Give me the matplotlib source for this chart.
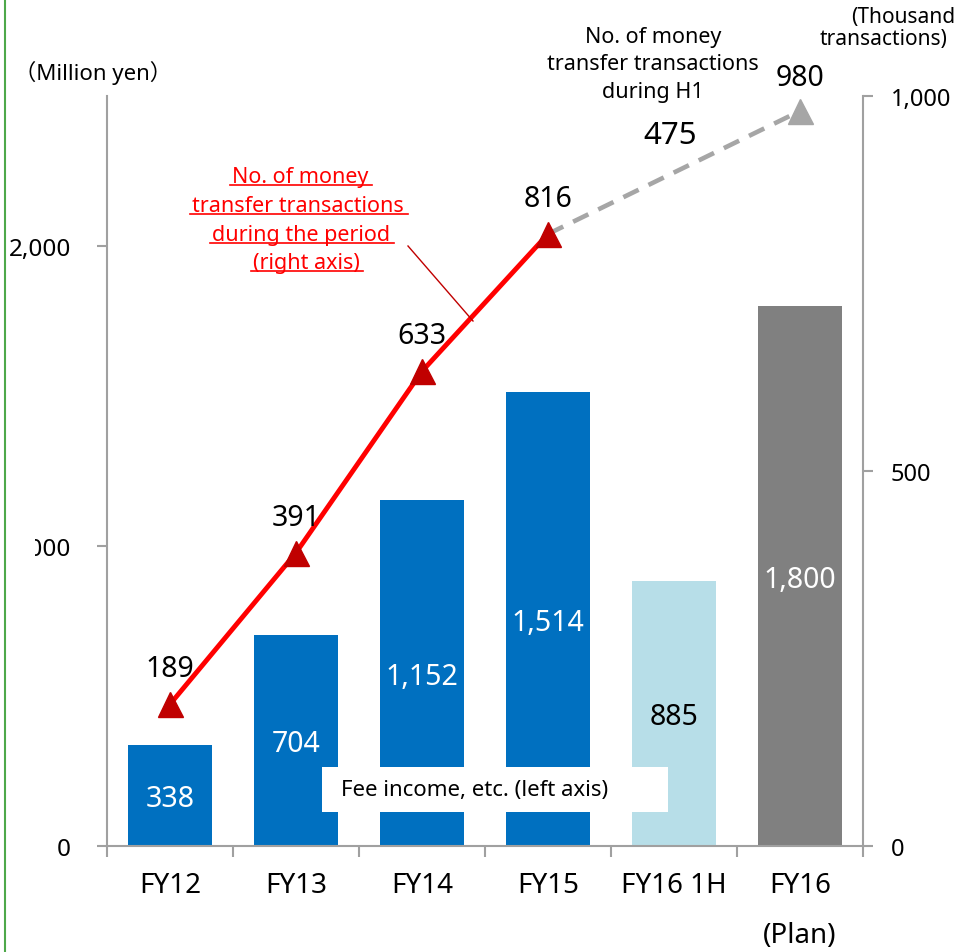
import matplotlib.pyplot as plt
from matplotlib.lines import Line2D
from matplotlib.patches import Rectangle

plt.rcParams['font.family'] = ['Noto Sans', 'Noto Sans CJK JP', 'DejaVu Sans']

# data
categories = ['FY12', 'FY13', 'FY14', 'FY15', 'FY16 1H', 'FY16\n(Plan)']
fee_income = [338, 704, 1152, 1514, 885, 1800]          # million yen, left axis
bar_colors = ['#0070C0', '#0070C0', '#0070C0', '#0070C0', '#B7DEE8', '#808080']
label_colors = ['white', 'white', 'white', 'white', 'black', 'white']

transactions = [189, 391, 633, 816]      # FY12-FY15, thousand, right axis
plan_transactions = [816, 980]           # FY15 -> FY16 plan
h1_transactions = 475

W, H = 961, 953
fig = plt.figure(figsize=(W / 100, H / 100), dpi=100)


def fx(x):
    return x / W


def fy(y):
    return 1 - y / H


axis_grey = '#A0A0A0'

ax = fig.add_axes([fx(107), fy(847), (863 - 107) / W, (847 - 97) / H])
xs = list(range(len(categories)))
bars = ax.bar(xs, fee_income, width=0.67, color=bar_colors, zorder=2)
blabels = ax.bar_label(bars, labels=[f'{v:,}' for v in fee_income],
                       label_type='center', fontsize=20.5)
for t, c in zip(blabels, label_colors):
    t.set_color(c)
    t.set_va('center_baseline')

ax.set_xlim(-0.5, 5.5)
ax.set_ylim(0, 2500)
ax.set_yticks([0, 1000, 2000])
ax.set_yticklabels(['0', '1,000', '2,000'])
ax.set_xticks(xs)
ax.set_xticklabels(categories)
ax.get_xticklabels()[-1].set_linespacing(2.05)
ax.set_xticks([i - 0.5 for i in range(len(categories) + 1)], minor=True)
ax.tick_params(axis='x', which='major', length=0, pad=18, labelsize=20)
ax.tick_params(axis='x', which='minor', length=8, width=1.5, color=axis_grey)
ax.tick_params(axis='y', length=7, width=1.5, color=axis_grey, pad=19, labelsize=17.5)
for s in ['top', 'right']:
    ax.spines[s].set_visible(False)
for s in ['left', 'bottom']:
    ax.spines[s].set_color(axis_grey)
    ax.spines[s].set_linewidth(1.5)

ax2 = ax.twinx()
ax2.set_ylim(0, 1000)
ax2.set_yticks([0, 500, 1000])
ax2.set_yticklabels(['0', '500', '1,000'])
ax2.tick_params(axis='y', length=7, width=1.5, color=axis_grey, pad=13, labelsize=17)
for s in ['top', 'left', 'bottom']:
    ax2.spines[s].set_visible(False)
ax2.spines['right'].set_color(axis_grey)
ax2.spines['right'].set_linewidth(1.5)

ax2.plot([3, 5], plan_transactions, color='#A6A6A6', lw=3.3, ls=(0, (3.7, 2.4)),
         marker='^', ms=18, markevery=[1], mfc='#A6A6A6', mec='#A6A6A6', zorder=2)
ax2.plot(range(len(transactions)), transactions, color='#FF0000', lw=3.5,
         marker='^', ms=18, mfc='#C00000', mec='#C00000', zorder=3)

for i, v in enumerate(transactions):
    ax2.annotate(f'{v}', (i, v), xytext=(0, 28), textcoords='offset points',
                 ha='center', va='center_baseline', fontsize=20.5)
ax2.annotate(f'{plan_transactions[1]}', (5, plan_transactions[1]), xytext=(0, 27),
             textcoords='offset points', ha='center', va='center_baseline', fontsize=20.5)

# text labels
fig.text(fx(670), fy(133), f'{h1_transactions}', ha='center', va='center_baseline', fontsize=22.5)
for line, yy in zip(['No. of money', 'transfer transactions', 'during H1'], [37, 65, 93]):
    fig.text(fx(653), fy(yy), line, ha='center', va='center', fontsize=15.5)
fig.text(fx(955), fy(17), '(Thousand', ha='right', va='center', fontsize=15)
fig.text(fx(948), fy(40), 'transactions)', ha='right', va='center', fontsize=15)
fig.text(fx(93), fy(73), '（Million yen）', ha='center', va='center', fontsize=16)

# red callout with underlines
red_lines = ['No. of money', 'transfer transactions', 'during the period', '(right axis)']
red_x = [300, 298, 301, 306]
red_base = [183, 212, 241, 269]
red_texts = [fig.text(fx(x0), fy(b), s, ha='center', va='baseline', fontsize=15.5, color='#FF0000')
             for s, x0, b in zip(red_lines, red_x, red_base)]
renderer = fig.canvas.get_renderer()
for t, b in zip(red_texts, red_base):
    bb = t.get_window_extent(renderer)
    fig.add_artist(Line2D([fx(bb.x0 - 2), fx(bb.x1 + 4)], [fy(b + 3), fy(b + 3)],
                          color='#FF0000', lw=1.2))
fig.add_artist(Line2D([fx(408), fx(473)], [fy(247), fy(322)], color='#C00000', lw=1.0))

# legend-like box for bars
fig.add_artist(Rectangle((fx(322), fy(813)), (668 - 322) / W, (813 - 768) / H,
                         facecolor='white', edgecolor='none'))
fig.text(fx(341), fy(791), 'Fee income, etc. (left axis)', ha='left', va='center', fontsize=16)

# cropped edge of the slide
fig.add_artist(Rectangle((fx(6), fy(572)), (35 - 6) / W, (572 - 522) / H,
                         facecolor='white', edgecolor='none'))
fig.add_artist(Line2D([fx(4.5), fx(4.5)], [0, 1], color='#4EA84A', lw=1.5))

fig.savefig('out.png', dpi=100)
